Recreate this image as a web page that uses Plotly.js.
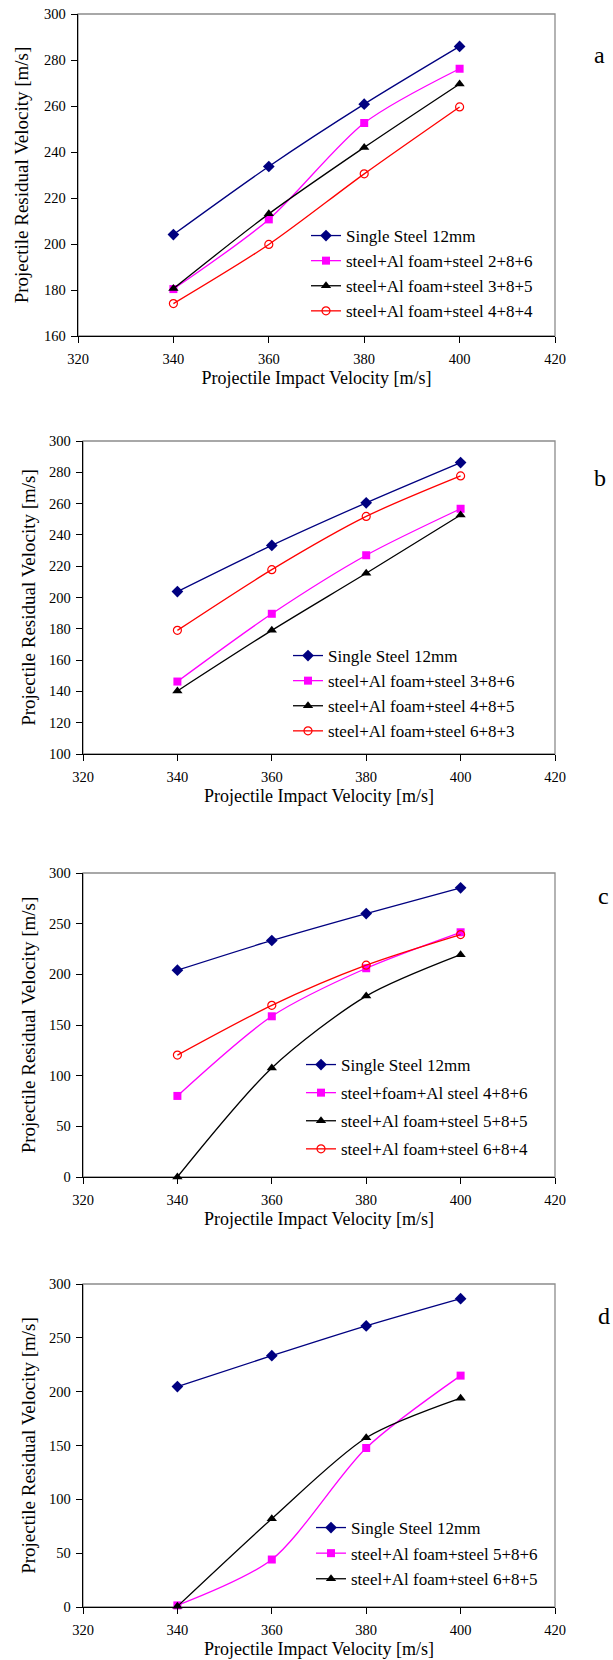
<!DOCTYPE html>
<html>
<head>
<meta charset="utf-8">
<script src="https://cdn.plot.ly/plotly-3.0.1.min.js"></script>
<style>html,body{margin:0;padding:0;background:#fff;}#chart{width:613px;height:1660px;}</style>
</head>
<body>
<div id="chart"></div>
<script>
// ---- data ----
const impactVelocity = [340, 360, 380, 400];
const xTicks = [320, 340, 360, 380, 400, 420];

const aNames = ["Single Steel 12mm", "steel+Al foam+steel 2+8+6", "steel+Al foam+steel 3+8+5", "steel+Al foam+steel 4+8+4"];
const aSingle = [204.1, 233.7, 260.8, 285.9];
const aSteel286 = [180.4, 210.7, 252.6, 276.2];
const aSteel385 = [180.6, 213.1, 242.0, 269.6];
const aSteel484 = [174.1, 199.8, 230.5, 259.6];

const bNames = ["Single Steel 12mm", "steel+Al foam+steel 3+8+6", "steel+Al foam+steel 4+8+5", "steel+Al foam+steel 6+8+3"];
const bSingle = [203.8, 233.3, 260.5, 286.2];
const bSteel386 = [146.3, 189.6, 227.0, 256.7];
const bSteel485 = [140.3, 179.0, 215.5, 252.7];
const bSteel683 = [179.0, 217.8, 251.8, 277.7];

const cNames = ["Single Steel 12mm", "steel+foam+Al steel 4+8+6", "steel+Al foam+steel 5+8+5", "steel+Al foam+steel 6+8+4"];
const cSingle = [204.1, 233.4, 260.0, 285.4];
const cSteel486 = [80.0, 158.6, 206.0, 241.5];
const cSteel585 = [0, 107.6, 178.5, 219.4];
const cSteel684 = [120.3, 169.4, 209.0, 239.2];

const dNames = ["Single Steel 12mm", "steel+Al foam+steel 5+8+6", "steel+Al foam+steel 6+8+5"];
const dSingle = [204.7, 233.4, 261.1, 286.4];
const dSteel586 = [1.5, 44.1, 147.7, 214.9];
const dSteel685 = [0.6, 82.0, 157.2, 194.0];

const panelLetters = ["a", "b", "c", "d"];
const xTitle = "Projectile Impact Velocity [m/s]";
const yTitle = "Projectile Residual Velocity [m/s]";

// ---- styling ----
const W = 613, H = 1660;
const fx = p => p / W;
const fy = p => 1 - p / H;
const FONT = "Liberation Serif";

const styles = {
  single: {color: "#000080", symbol: "diamond", size: 9},
  mag: {color: "#FF00FF", symbol: "square", size: 8},
  blk: {color: "#000000", symbol: "triangle-up", size: 9},
  red: {color: "#FF0000", symbol: "circle-open", size: 8}
};

let gid = 0;
function tr(y, name, st, xa, ya, leg) {
  gid += 1;
  return {
    x: impactVelocity, y: y, name: name, type: "scatter", mode: "lines+markers",
    xaxis: xa, yaxis: ya, legend: leg, legendgroup: "g" + gid, cliponaxis: false,
    line: {color: st.color, width: 1.3, shape: "spline", smoothing: 0.8},
    marker: {color: st.color, symbol: st.symbol, size: st.size, line: {color: st.color, width: st.symbol === "circle-open" ? 1.2 : 0}}
  };
}

const data = [
  tr(aSingle, aNames[0], styles.single, "x", "y", "legend"),
  tr(aSteel286, aNames[1], styles.mag, "x", "y", "legend"),
  tr(aSteel385, aNames[2], styles.blk, "x", "y", "legend"),
  tr(aSteel484, aNames[3], styles.red, "x", "y", "legend"),
  tr(bSingle, bNames[0], styles.single, "x2", "y2", "legend2"),
  tr(bSteel386, bNames[1], styles.mag, "x2", "y2", "legend2"),
  tr(bSteel485, bNames[2], styles.blk, "x2", "y2", "legend2"),
  tr(bSteel683, bNames[3], styles.red, "x2", "y2", "legend2"),
  tr(cSingle, cNames[0], styles.single, "x3", "y3", "legend3"),
  tr(cSteel486, cNames[1], styles.mag, "x3", "y3", "legend3"),
  tr(cSteel585, cNames[2], styles.blk, "x3", "y3", "legend3"),
  tr(cSteel684, cNames[3], styles.red, "x3", "y3", "legend3"),
  tr(dSingle, dNames[0], styles.single, "x4", "y4", "legend4"),
  tr(dSteel586, dNames[1], styles.mag, "x4", "y4", "legend4"),
  tr(dSteel685, dNames[2], styles.blk, "x4", "y4", "legend4")
];

// panel boxes in pixels: [left, right, top, bottom]
const boxes = [[78, 555, 14, 336], [83, 555, 441, 754], [83, 555, 873, 1177], [83, 555, 1284, 1607]];
const yRanges = [[160, 300], [100, 300], [0, 300], [0, 300]];
const yDtick = [20, 20, 50, 50];
const yTitleStandoff = [10, 8, 8, 8];

function xaxis(i) {
  const b = boxes[i];
  return {
    domain: [fx(b[0]), fx(b[1])], anchor: i === 0 ? "y" : "y" + (i + 1),
    range: [320, 420], tickmode: "array", tickvals: xTicks,
    showgrid: false, zeroline: false, showline: true, linecolor: "#000", linewidth: 1.3,
    ticks: "outside", ticklen: 6, tickcolor: "#000", tickwidth: 1,
    ticklabelstandoff: 3,
    tickfont: {family: FONT, size: 14.5, color: "#000"},
    title: {text: xTitle, font: {family: FONT, size: 18, color: "#000"}, standoff: 5},
    fixedrange: true
  };
}
function yaxis(i) {
  const b = boxes[i];
  return {
    domain: [fy(b[3]), fy(b[2])], anchor: i === 0 ? "x" : "x" + (i + 1),
    range: yRanges[i], dtick: yDtick[i], tick0: 0,
    showgrid: false, zeroline: false, showline: true, linecolor: "#000", linewidth: 1.3,
    ticks: "outside", ticklen: 6, tickcolor: "#000", tickwidth: 1,
    ticklabelstandoff: 2,
    tickfont: {family: FONT, size: 14.5, color: "#000"},
    title: {text: yTitle, font: {family: FONT, size: 19, color: "#000"}, standoff: yTitleStandoff[i]},
    fixedrange: true
  };
}

// legend placement in pixels: [left, top], and gap between entries
const legPos = [[306, 218], [288, 638], [301, 1047], [311, 1510]];
const legGap = [0, 0, 3, 0.5];
function legend(i) {
  return {
    x: fx(legPos[i][0]), y: fy(legPos[i][1]), xanchor: "left", yanchor: "top",
    bgcolor: "rgba(0,0,0,0)", borderwidth: 0,
    font: {family: FONT, size: 17, color: "#000"},
    itemwidth: 30, tracegroupgap: legGap[i]
  };
}

const letterPos = [[599, 55], [600, 478], [603, 896], [604, 1316]];

const shapes = boxes.map(b => ({
  type: "rect", xref: "paper", yref: "paper",
  x0: fx(b[0]), x1: fx(b[1]), y0: fy(b[3]), y1: fy(b[2]),
  line: {color: "#8c8c8c", width: 1.3}, layer: "below"
}));

const annotations = panelLetters.map((t, i) => ({
  text: t, xref: "paper", yref: "paper", x: fx(letterPos[i][0]), y: fy(letterPos[i][1]),
  xanchor: "center", yanchor: "middle", showarrow: false,
  font: {family: FONT, size: 24, color: "#000"}
}));

const layout = {
  width: W, height: H, margin: {l: 0, r: 0, t: 0, b: 0},
  paper_bgcolor: "#fff", plot_bgcolor: "#fff",
  font: {family: FONT, color: "#000"},
  xaxis: xaxis(0), yaxis: yaxis(0),
  xaxis2: xaxis(1), yaxis2: yaxis(1),
  xaxis3: xaxis(2), yaxis3: yaxis(2),
  xaxis4: xaxis(3), yaxis4: yaxis(3),
  legend: legend(0), legend2: legend(1), legend3: legend(2), legend4: legend(3),
  shapes: shapes, annotations: annotations,
  showlegend: true
};

Plotly.newPlot("chart", data, layout, {staticPlot: true, displayModeBar: false});
</script>
</body>
</html>
